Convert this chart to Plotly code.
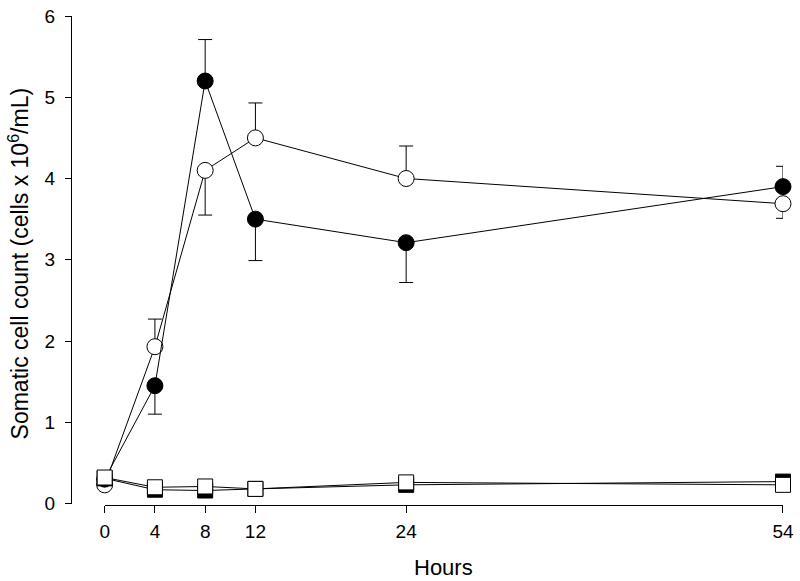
import plotly.graph_objects as go

hours = [0, 4, 8, 12, 24, 54]
x_ticks = [0, 4, 8, 12, 24, 54]
y_ticks = [0, 1, 2, 3, 4, 5, 6]

filled_circle = [0.30, 1.45, 5.20, 3.50, 3.21, 3.90]
filled_circle_up = [0, 0, 0.51, 0, 0, 0.25]
filled_circle_dn = [0, 0.35, 0, 0.51, 0.49, 0]

open_circle = [0.23, 1.93, 4.10, 4.50, 4.00, 3.69]
open_circle_up = [0, 0.34, 0, 0.43, 0.40, 0]
open_circle_dn = [0, 0, 0.55, 0, 0, 0.18]

filled_square = [0.31, 0.17, 0.16, 0.18, 0.23, 0.27]
open_square = [0.32, 0.20, 0.21, 0.18, 0.26, 0.23]

W, H = 800, 581
L, R, T, B = 71, 790, 6, 76  # plot area in px
x0_px = 105
xdom0 = (x0_px - L) / (R - L)
ydom0 = 1.5 / (H - T - B)

fig = go.Figure()

def add(y, up, dn, symbol, fill):
    kw = {}
    if up is not None:
        kw["error_y"] = dict(type="data", symmetric=False, array=up, arrayminus=dn,
                             color="black", thickness=1, width=7)
    fig.add_trace(go.Scatter(
        x=hours, y=y, mode="lines+markers",
        line=dict(color="black", width=1),
        marker=dict(symbol=symbol, size=16 if symbol == "circle" else 15,
                    color=fill, line=dict(color="black", width=1)),
        cliponaxis=False, showlegend=False, hoverinfo="skip", **kw))

add(open_circle, open_circle_up, open_circle_dn, "circle", "white")
add(filled_circle, filled_circle_up, filled_circle_dn, "circle", "black")
add(filled_square, None, None, "square", "black")
add(open_square, None, None, "square", "white")

font = "Liberation Sans, Arial, sans-serif"
fig.update_layout(
    width=W, height=H,
    margin=dict(l=L, r=W - R, t=T, b=B),
    paper_bgcolor="white", plot_bgcolor="white",
    font=dict(family=font, color="black", size=19),
    xaxis=dict(domain=[xdom0, 1], range=[0, 54], tickvals=x_ticks,
               showgrid=False, zeroline=False, showline=True, linecolor="black",
               linewidth=1, ticks="outside", ticklen=7, tickcolor="black",
               tickfont=dict(size=19), anchor="free", position=0,
               ticklabelstandoff=2, ticklabeloverflow="allow"),
    yaxis=dict(domain=[ydom0, 1], range=[0, 6], tickvals=y_ticks,
               showgrid=False, zeroline=False, showline=True, linecolor="black",
               linewidth=1, ticks="outside", ticklen=6, tickcolor="black",
               tickfont=dict(size=19), anchor="free", position=0,
               ticklabelstandoff=6, ticklabeloverflow="allow"),
)

fig.add_annotation(text="Hours", xref="paper", yref="paper",
                   x=(447 - L) / (R - L), y=(H - B - 569) / (H - T - B),
                   xanchor="center", yanchor="middle", showarrow=False,
                   font=dict(size=22, family=font))
fig.add_annotation(text="Somatic cell count (cells x 10<sup>6</sup>/mL)",
                   xref="paper", yref="paper",
                   x=(18 - L) / (R - L), y=(H - B - 259) / (H - T - B),
                   xanchor="center", yanchor="middle", showarrow=False,
                   textangle=-90, font=dict(size=23, family=font))

fig.write_html("out.html", config={"displayModeBar": False},
               post_script="document.body.style.margin='0px';"
                           "document.body.style.overflow='hidden';")
